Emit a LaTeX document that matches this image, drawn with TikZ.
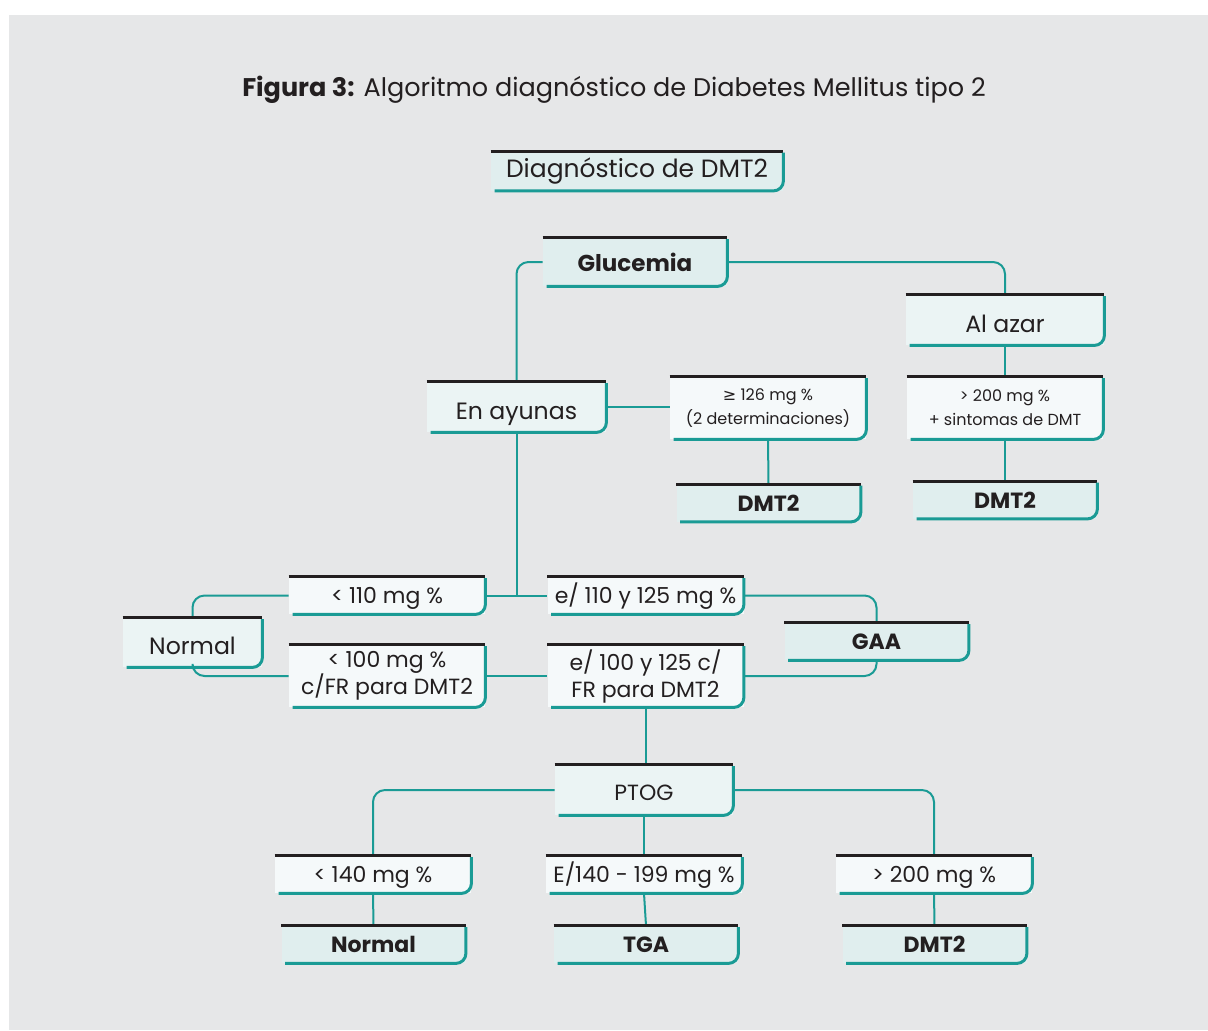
\documentclass[tikz,border=0pt]{standalone}
\usepackage{fontspec}
\setmainfont{Poppins}
\newfontfamily\symfont{DejaVu Sans}
\definecolor{bg}{HTML}{E6E7E8}
\definecolor{tealline}{HTML}{1A9B95}
\definecolor{fillres}{HTML}{E0EEEE}
\definecolor{fillmid}{HTML}{EBF4F4}
\definecolor{fillcond}{HTML}{F5F9FA}
\definecolor{ink}{HTML}{231F20}
\tikzset{
  link/.style={tealline, line width=1pt, rounded corners=6pt},
  topbar/.style={ink, line width=1.5pt},
  edge/.style={tealline, line width=1.5pt, rounded corners=5pt},
  box/.style={inner sep=0pt, align=center, text=ink},
  result/.style={box, fill=fillres, minimum width=92pt, minimum height=18.5pt,
    font=\fontsize{11}{12}\selectfont\bfseries},
  mid/.style={box, fill=fillmid, minimum height=25pt, text height=12pt, text depth=0pt,
    font=\fontsize{11.8}{13}\selectfont},
  cond/.style={box, fill=fillcond, minimum width=98pt, minimum height=18.5pt,
    text height=7.7pt, text depth=0pt, font=\fontsize{11}{13.5}\selectfont},
  condii/.style={box, fill=fillcond, minimum width=98pt, minimum height=31pt,
    font=\fontsize{11}{13.5}\selectfont},
  small/.style={condii, font=\fontsize{8}{12}\selectfont},
}
\begin{document}
\begin{tikzpicture}[x=0.5pt, y=-0.5pt]
  \useasboundingbox (0,0) rectangle (1208,1030);
  \fill[bg] (9,15) rectangle (1208,1030);

  \node[text=ink, font=\fontsize{12.75}{15}\selectfont] (title) at (614,90)
    {\textbf{Figura 3:} Algoritmo diagnóstico de Diabetes Mellitus tipo 2};

  % top of the tree
  \node[result, minimum width=146pt, minimum height=19.5pt, font=\fontsize{12.5}{14}\selectfont] (diag) at (637,171) {Diagnóstico de DMT2};
  \node[result, minimum height=24pt, font=\fontsize{11.5}{13}\selectfont\bfseries] (gluc) at (635,262) {Glucemia};
  \node[mid, minimum width=99pt] (azar) at (1005,320) {Al azar};
  \node[mid, minimum width=89.5pt] (ayun) at (516.5,407) {En ayunas};
  \node[small] (c126) at (768,408) {{\symfont ≥} 126 mg \%\\(2 determinaciones)};
  \node[small] (r200) at (1005,408) {> 200 mg \%\\+ sintomas de DMT};
  \node[result] (dmtA) at (768.5,503) {DMT2};
  \node[result] (dmtB) at (1005,500) {DMT2};

  % ayunas branch
  \node[cond] (l110) at (387,595.5) {< 110 mg \%};
  \node[cond] (e110) at (645.5,595.5) {e/ 110 y 125 mg \%};
  \node[mid, minimum width=69.5pt, minimum height=24.5pt] (normA) at (192.5,642.5) {Normal};
  \node[result] (gaa) at (876.5,641.5) {GAA};
  \node[condii] (l100) at (387,676) {< 100 mg \%\\c/FR para DMT2};
  \node[condii] (e100) at (645.5,676) {e/ 100 y 125 c/\\FR para DMT2};

  % PTOG
  \node[mid, minimum width=89pt, text height=10.5pt, font=\fontsize{11}{12}\selectfont] (ptog) at (644,790) {PTOG};
  \node[cond] (l140) at (373,874.5) {< 140 mg \%};
  \node[cond] (e140) at (644,874.5) {E/140 - 199 mg \%};
  \node[cond] (g200) at (934,874.5) {> 200 mg \%};
  \node[result] (normB) at (373.5,944.5) {Normal};
  \node[result] (tga) at (646,944.5) {TGA};
  \node[result] (dmtC) at (934.5,944.5) {DMT2};

  % connectors
  \draw[link] (gluc.west) -| (ayun.north);
  \draw[link] (gluc.east) -| (azar.north);
  \draw[link] (azar.south) -- (r200.north);
  \draw[link] (ayun.east) -- (ayun.east -| c126.west);
  \draw[link] (c126.south) -- (dmtA.north);
  \draw[link] (r200.south) -- (dmtB.north);
  \draw[link] (ayun.south) -- (ayun.south |- l110.east);
  \draw[link] (l110.east) -- (e110.west);
  \draw[link] (l110.west) -| (normA.north);
  \draw[link] (normA.south) |- (l100.west);
  \draw[link] (l100.east) -- (e100.west);
  \draw[link] (e110.east) -| (gaa.north);
  \draw[link] (gaa.south) |- (e100.east);
  \draw[link] (e100.south) -- (e100.south |- ptog.north);
  \draw[link] (ptog.west) -| (l140.north);
  \draw[link] (ptog.east) -| (g200.north);
  \draw[link] (ptog.south) -- (e140.north);
  \draw[link] (l140.south) -- (normB.north);
  \draw[link] (e140.south) -- (tga.north);
  \draw[link] (g200.south) -- (dmtC.north);

  % box frames
  \foreach \n in {diag,gluc,azar,ayun,c126,r200,dmtA,dmtB,l110,e110,normA,gaa,
                  l100,e100,ptog,l140,e140,g200,normB,tga,dmtC}{
    \draw[topbar] (\n.north west) -- (\n.north east);
    \draw[edge] ([yshift=-0.8pt]\n.north east) -- (\n.south east) -- ([xshift=2pt]\n.south west);
  }
\end{tikzpicture}
\end{document}
